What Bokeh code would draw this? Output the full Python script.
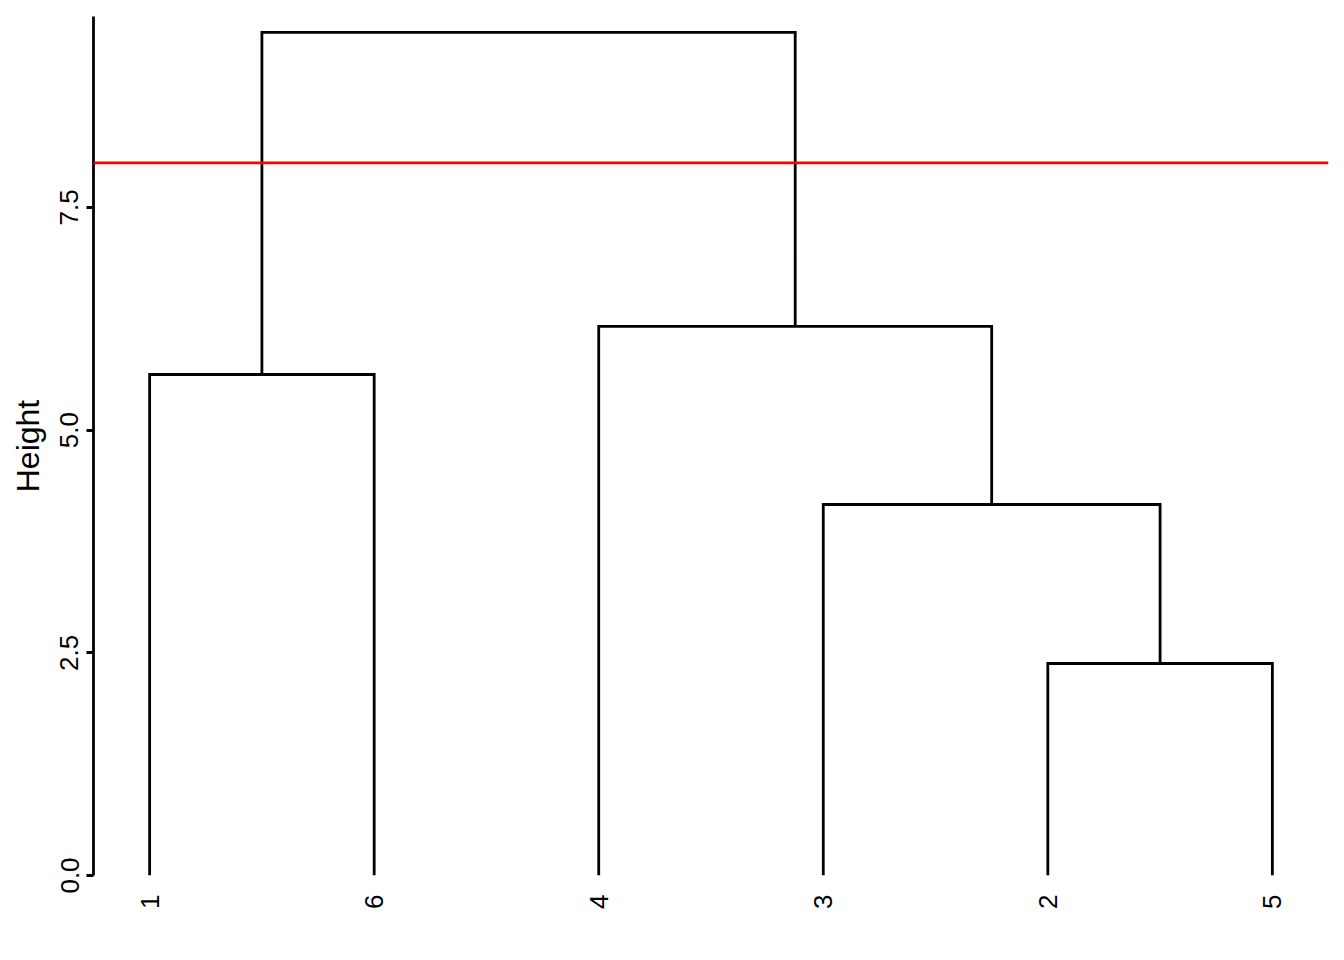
import math
from bokeh.plotting import figure
from bokeh.models import Range1d, FixedTicker, Span
from bokeh.embed import file_html
from bokeh.resources import INLINE

# ---- data ----
leaf_labels = ["1", "6", "4", "3", "2", "5"]
# merges: children refer to leaf index (0..5) as "L#" or earlier merge as "M#"
merge_left = ["L4", "L3", "L0", "L2", "M2"]
merge_right = ["L5", "M0", "L1", "M1", "M3"]
merge_height = [2.38, 4.165, 5.625, 6.164, 9.465]
cut_height = 8.0
y_ticks = [0.0, 2.5, 5.0, 7.5]

FONT = "Liberation Sans"
LW = 2.8

leaf_x = {f"L{i}": i + 1 for i in range(len(leaf_labels))}
node_x = dict(leaf_x)
node_h = {k: 0.0 for k in leaf_x}

xs, ys = [], []
for i, (a, b, h) in enumerate(zip(merge_left, merge_right, merge_height)):
    xa, xb = node_x[a], node_x[b]
    ha, hb = node_h[a], node_h[b]
    xs.append([xa, xa, xb, xb])
    ys.append([ha, h, h, hb])
    node_x[f"M{i}"] = (xa + xb) / 2
    node_h[f"M{i}"] = h

p = figure(width=1336, height=952, output_backend="svg", toolbar_location=None,
           x_range=Range1d(0.75, 6.25), y_range=Range1d(0, 9.644),
           min_border_left=93, min_border_right=8, min_border_top=16, min_border_bottom=77)
p.outline_line_color = None
p.xgrid.grid_line_color = None
p.ygrid.grid_line_color = None
p.background_fill_color = "white"
p.border_fill_color = "white"

p.multi_line(xs, ys, line_color="black", line_width=LW, line_cap="butt", line_join="miter")
p.add_layout(Span(location=cut_height, dimension="width", line_color="#FF0000", line_width=LW))

# y axis
ya = p.yaxis[0]
ya.ticker = FixedTicker(ticks=y_ticks)
ya.major_label_overrides = {t: f"{t:.1f}" for t in y_ticks}
ya.major_label_orientation = "vertical"
ya.major_label_text_font = FONT
ya.major_label_text_font_size = "26px"
ya.major_label_text_color = "black"
ya.major_label_standoff = 8
ya.major_tick_out = 7
ya.major_tick_in = 0
ya.major_tick_line_width = LW
ya.minor_tick_line_color = None
ya.axis_line_width = LW
ya.axis_line_color = "black"
ya.axis_label = "Height"
ya.axis_label_text_font = FONT
ya.axis_label_text_font_size = "32px"
ya.axis_label_text_font_style = "normal"
ya.axis_label_text_color = "black"
ya.axis_label_standoff = 12

# x axis (leaf labels)
xa = p.xaxis[0]
xa.ticker = FixedTicker(ticks=list(range(1, len(leaf_labels) + 1)))
xa.major_label_overrides = {i + 1: lab for i, lab in enumerate(leaf_labels)}
xa.major_label_orientation = math.pi / 2
xa.major_label_text_font = FONT
xa.major_label_text_font_size = "26px"
xa.major_label_text_color = "black"
xa.major_label_standoff = 13
xa.major_tick_line_color = None
xa.minor_tick_line_color = None
xa.axis_line_color = None

open("out.html", "w").write(file_html(p, INLINE))
